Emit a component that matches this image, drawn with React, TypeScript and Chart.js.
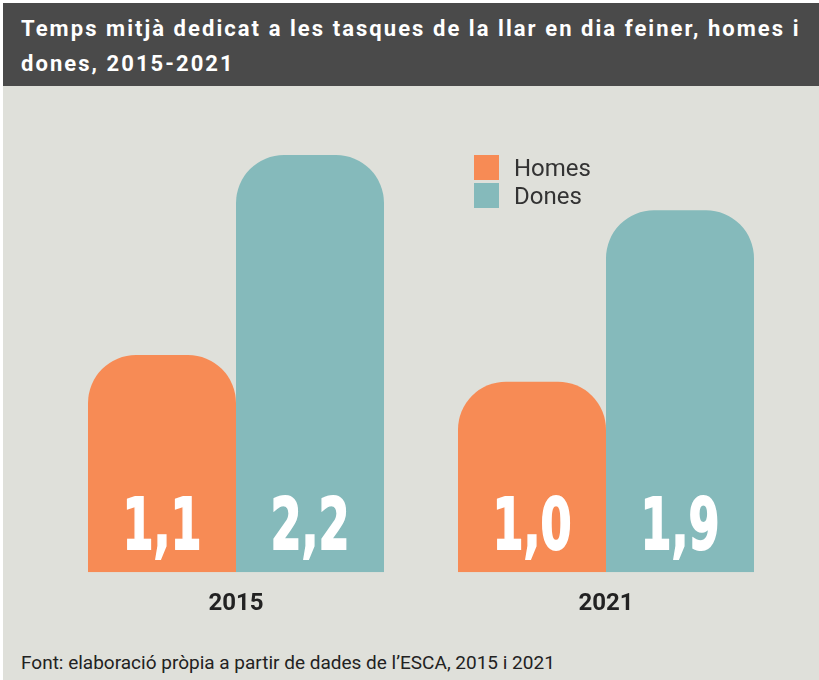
import React, { useEffect, useRef } from "react";
import { Chart, registerables } from "chart.js";

Chart.register(...registerables);

const categories = ["2015", "2021"];
const seriesNames = ["Homes", "Dones"];
const homesValues = [1.14, 1.0];
const donesValues = [2.19, 1.9];
const seriesColors = ["#f78b55", "#85babb"];
const yMax = 2.5;

const titleLines = [
  "Temps mitjà dedicat a les tasques de la llar en dia feiner, homes i",
  "dones, 2015-2021",
];
const sourceText = "Font: elaboració pròpia a partir de dades de l’ESCA, 2015 i 2021";

const formatValue = (v: number) => v.toFixed(1).replace(".", ",");

const valueLabelPlugin = {
  id: "valueLabels",
  afterDatasetsDraw(chart: any) {
    const ctx = chart.ctx;
    chart.data.datasets.forEach((ds: any, di: number) => {
      const meta = chart.getDatasetMeta(di);
      meta.data.forEach((el: any, i: number) => {
        const text = formatValue(ds.data[i]);
        ctx.save();
        ctx.translate(el.x, el.base - 23);
        ctx.scale(0.62, 1);
        ctx.font = "bold 72px 'DejaVu Sans'";
        ctx.fillStyle = "#ffffff";
        ctx.strokeStyle = "#ffffff";
        ctx.lineWidth = 2;
        ctx.textAlign = "center";
        ctx.textBaseline = "alphabetic";
        ctx.fillText(text, 0, 0);
        ctx.strokeText(text, 0, 0);
        ctx.restore();
      });
    });
  },
};

export default function App() {
  const canvasRef = useRef<HTMLCanvasElement | null>(null);

  useEffect(() => {
    if (!canvasRef.current) return;
    const chart = new Chart(canvasRef.current, {
      type: "bar",
      data: {
        labels: categories,
        datasets: [
          {
            label: seriesNames[0],
            data: homesValues,
            backgroundColor: seriesColors[0],
            borderRadius: { topLeft: 48, topRight: 48, bottomLeft: 0, bottomRight: 0 },
            borderSkipped: false,
            categoryPercentage: 0.8,
            barPercentage: 1.0,
          },
          {
            label: seriesNames[1],
            data: donesValues,
            backgroundColor: seriesColors[1],
            borderRadius: { topLeft: 48, topRight: 48, bottomLeft: 0, bottomRight: 0 },
            borderSkipped: false,
            categoryPercentage: 0.8,
            barPercentage: 1.0,
          },
        ],
      },
      options: {
        responsive: false,
        animation: false,
        devicePixelRatio: 1,
        layout: { padding: { left: 51, right: 28, top: 10, bottom: 5 } },
        plugins: {
          legend: { display: false },
          tooltip: { enabled: false },
          title: { display: false },
        },
        scales: {
          x: {
            grid: { display: false, drawTicks: false },
            border: { display: false },
            ticks: {
              padding: 17,
              color: "#222222",
              font: { family: "Roboto", size: 24, weight: "bold" },
            },
          },
          y: {
            display: false,
            min: 0,
            max: yMax,
          },
        },
      },
      plugins: [valueLabelPlugin],
    });
    return () => chart.destroy();
  }, []);

  return (
    <div
      style={{
        position: "absolute",
        left: 0,
        top: 0,
        width: 819,
        height: 680,
        background: "#ffffff",
        overflow: "hidden",
      }}
    >
      <div
        style={{
          position: "absolute",
          left: 3,
          top: 3,
          width: 816,
          height: 677,
          background: "#dfe0da",
        }}
      />
      <div
        style={{
          position: "absolute",
          left: 3,
          top: 3,
          width: 816,
          height: 83,
          background: "#4a4a4a",
          color: "#ffffff",
          fontFamily: "Roboto",
          fontWeight: "bold",
          fontSize: 22,
          letterSpacing: "2.05px",
          lineHeight: "35px",
          boxSizing: "border-box",
          paddingLeft: 18,
          paddingTop: 8,
          whiteSpace: "nowrap",
        }}
      >
        {titleLines[0]}
        <br />
        {titleLines[1]}
      </div>
      <canvas
        ref={canvasRef}
        width={819}
        height={554}
        style={{ position: "absolute", left: 0, top: 86, width: 819, height: 554 }}
      />
      <div
        style={{
          position: "absolute",
          left: 474,
          top: 154,
          fontFamily: "Roboto",
          fontSize: 24,
          color: "#333333",
        }}
      >
        {seriesNames.map((name, i) => (
          <div key={name} style={{ height: 28, lineHeight: "28px", position: "relative", paddingLeft: 40 }}>
            <span
              style={{
                position: "absolute",
                left: 0,
                top: 1,
                width: 25,
                height: 25,
                background: seriesColors[i],
              }}
            />
            {name}
          </div>
        ))}
      </div>
      <div
        style={{
          position: "absolute",
          left: 21,
          top: 652,
          fontFamily: "Roboto",
          fontSize: 19,
          lineHeight: "22px",
          color: "#222222",
          whiteSpace: "nowrap",
        }}
      >
        {sourceText}
      </div>
    </div>
  );
}
